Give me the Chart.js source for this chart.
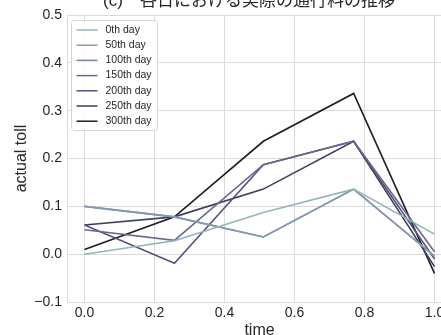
<!DOCTYPE html>
<html>
<head>
<meta charset="utf-8">
<script src="https://cdn.jsdelivr.net/npm/chart.js@4.4.0/dist/chart.umd.min.js"></script>
<style>
  html, body { margin: 0; padding: 0; background: #fff; overflow: hidden; }
  #wrap { width: 452px; height: 335px; }
</style>
</head>
<body>
<div id="wrap"><canvas id="toll-chart" width="452" height="335"></canvas></div>
<script>
// ---- data ----
const times = [0.0, 0.257, 0.511, 0.769, 1.0];
const seriesLabels = ['0th day', '50th day', '100th day', '150th day', '200th day', '250th day', '300th day'];
const day0   = [0.000, 0.028, 0.087, 0.136, 0.042];
const day50  = [0.100, 0.078, 0.036, 0.136, -0.004];
const day100 = [0.100, 0.078, 0.036, 0.136, -0.004];
const day150 = [0.051, 0.029, 0.187, 0.236, 0.005];
const day200 = [0.061, -0.019, 0.187, 0.236, -0.010];
const day250 = [0.061, 0.078, 0.136, 0.236, -0.026];
const day300 = [0.010, 0.078, 0.236, 0.336, -0.040];
const xTicks = [0.0, 0.2, 0.4, 0.6, 0.8, 1.0];
const yTicks = [-0.1, 0.0, 0.1, 0.2, 0.3, 0.4, 0.5];
const titleText = '(c)\u3000各日における実際の通行料の推移';

const seriesValues = [day0, day50, day100, day150, day200, day250, day300];
const colors = ['#93b4ba', '#8799ae', '#77809f', '#66698f', '#56537a', '#3f3e5a', '#1d1c27'];

const FONT = "'Liberation Sans', Arial, sans-serif";
const GRID = '#dadada';

// legend box drawn inside the plot, top-left
const innerLegend = {
  id: 'innerLegend',
  afterDraw(chart) {
    const ctx = chart.ctx, a = chart.chartArea;
    const x0 = a.left + 4.5, y0 = a.top + 5.5, w = 86, h = 110;
    ctx.save();
    ctx.fillStyle = 'rgba(255,255,255,0.85)';
    ctx.strokeStyle = '#d6d6d6';
    ctx.lineWidth = 1;
    ctx.beginPath();
    ctx.roundRect(x0, y0, w, h, 3);
    ctx.fill(); ctx.stroke();
    ctx.font = '10.5px ' + FONT;
    ctx.textBaseline = 'middle';
    chart.data.datasets.forEach((ds, i) => {
      const y = y0 + 9.5 + i * 15.2;
      ctx.strokeStyle = ds.borderColor;
      ctx.lineWidth = 1.5;
      ctx.beginPath(); ctx.moveTo(x0 + 5, y); ctx.lineTo(x0 + 26, y); ctx.stroke();
      ctx.fillStyle = '#262626';
      ctx.fillText(ds.label, x0 + 34, y);
    });
    ctx.restore();
  }
};

// title clipped at the top edge, as in the reference
const clippedTitle = {
  id: 'clippedTitle',
  afterDraw(chart) {
    const ctx = chart.ctx;
    ctx.save();
    ctx.font = '17px ' + FONT + ", 'Noto Sans CJK JP'";
    ctx.fillStyle = '#262626';
    ctx.textAlign = 'center';
    ctx.textBaseline = 'alphabetic';
    ctx.fillText(titleText, 249, 6);
    ctx.restore();
  }
};

new Chart(document.getElementById('toll-chart'), {
  type: 'line',
  data: {
    datasets: seriesLabels.map((lab, i) => ({
      label: lab,
      data: times.map((t, k) => ({ x: t, y: seriesValues[i][k] })),
      borderColor: colors[i],
      backgroundColor: colors[i],
      borderWidth: 1.6,
      pointRadius: 0,
      tension: 0,
      fill: false,
    })),
  },
  options: {
    responsive: false, animation: false,
    layout: { padding: { top: 15, right: 0, left: 0, bottom: 0 } },
    plugins: { legend: { display: false }, title: { display: false }, tooltip: { enabled: false } },
    scales: {
      x: {
        type: 'linear', min: -0.05, max: 1.05,
        afterBuildTicks: s => { s.ticks = xTicks.map(v => ({ value: v })); },
        afterFit: s => { s.height = 33; },
        grid: { color: GRID, drawTicks: false },
        border: { color: GRID },
        ticks: { padding: 3, color: '#262626', font: { family: FONT, size: 14 },
                 callback: v => v.toFixed(1) },
        title: { display: true, text: 'time', color: '#262626',
                 font: { family: FONT, size: 16 }, padding: { top: 0, bottom: -5 } },
      },
      y: {
        type: 'linear', min: -0.1, max: 0.5,
        afterBuildTicks: s => { s.ticks = yTicks.map(v => ({ value: v })); },
        afterFit: s => { s.width = 67; },
        grid: { color: GRID, drawTicks: false },
        border: { color: GRID },
        ticks: { padding: 5, color: '#262626', font: { family: FONT, size: 14 },
                 callback: v => (v < 0 ? '\u2212' + Math.abs(v).toFixed(1) : v.toFixed(1)) },
        title: { display: true, text: 'actual toll', color: '#262626',
                 font: { family: FONT, size: 16 }, padding: { top: 12, bottom: 0 } },
      },
    },
  },
  plugins: [innerLegend, clippedTitle],
});
</script>
</body>
</html>
